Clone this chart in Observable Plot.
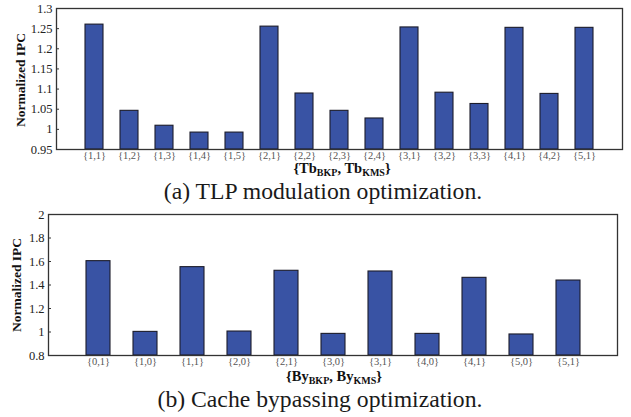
<!DOCTYPE html>
<html>
<head>
<meta charset="utf-8">
<script src="https://cdn.jsdelivr.net/npm/d3@7"></script>
<script src="https://cdn.jsdelivr.net/npm/@observablehq/plot@0.6"></script>
<style>
  html, body { margin: 0; padding: 0; background: #fff; }
  #page { position: relative; width: 631px; height: 417px; overflow: hidden; font-family: "Liberation Serif", "Times New Roman", serif; color: #111; }
  .chart { position: absolute; left: 0; }
  .ylab { position: absolute; font-weight: bold; font-size: 13.5px; white-space: nowrap; line-height: 1; transform: translate(-50%, -50%) rotate(-90deg); }
  .xtitle { position: absolute; font-weight: bold; font-size: 14.5px; white-space: nowrap; transform: translateX(-50%); line-height: 1; }
  .xtitle sub { font-size: 10px; vertical-align: baseline; position: relative; top: 2.5px; line-height: 0; }
  .caption { position: absolute; font-size: 23.7px; white-space: nowrap; transform: translateX(-50%); line-height: 1; color: #1a1a1a; }
</style>
</head>
<body>
<div id="page">
  <div id="chartA" class="chart" style="top:0px"></div>
  <div id="chartB" class="chart" style="top:200px"></div>
  <div class="ylab" style="left:21px; top:80px">Normalized IPC</div>
  <div class="ylab" style="left:17px; top:285px">Normalized IPC</div>
  <div class="xtitle" style="left:342px; top:161px">{Tb<sub>BKP</sub>, Tb<sub>KMS</sub>}</div>
  <div class="xtitle" style="left:334px; top:369px">{By<sub>BKP</sub>, By<sub>KMS</sub>}</div>
  <div class="caption" style="left:323px; top:180px">(a) TLP modulation optimization.</div>
  <div class="caption" style="left:320px; top:388px">(b) Cache bypassing optimization.</div>
</div>
<script>
// (a) TLP modulation
const tlpCategories = ["{1,1}","{1,2}","{1,3}","{1,4}","{1,5}","{2,1}","{2,2}","{2,3}","{2,4}","{3,1}","{3,2}","{3,3}","{4,1}","{4,2}","{5,1}"];
const tlpValues = [1.260, 1.046, 1.009, 0.992, 0.992, 1.255, 1.089, 1.046, 1.027, 1.253, 1.091, 1.063, 1.252, 1.088, 1.252];
const tlpTicks = [0.95, 1, 1.05, 1.1, 1.15, 1.2, 1.25, 1.3];

// (b) Cache bypassing
const byCategories = ["{0,1}","{1,0}","{1,1}","{2,0}","{2,1}","{3,0}","{3,1}","{4,0}","{4,1}","{5,0}","{5,1}"];
const byValues = [1.603, 1.001, 1.552, 1.004, 1.521, 0.984, 1.515, 0.984, 1.461, 0.979, 1.438];
const byTicks = [0.8, 1, 1.2, 1.4, 1.6, 1.8, 2];

const barFill = "#3953a4";
const fmt = d => String(+d.toFixed(2));

function makeChart(cats, vals, ticks, opts) {
  const data = cats.map((c, i) => ({cat: c, v: vals[i]}));
  const base = ticks[0];
  return Plot.plot({
    width: 631,
    height: opts.height,
    marginTop: opts.mt,
    marginBottom: opts.mb,
    marginLeft: opts.ml,
    marginRight: opts.mr,
    style: {fontFamily: "'Liberation Serif', 'Times New Roman', serif", background: "#fff"},
    x: {domain: cats, paddingInner: 0.49, paddingOuter: 0.745, axis: null},
    y: {domain: [ticks[0], ticks[ticks.length - 1]], axis: null},
    marks: [
      Plot.barY(data, {x: "cat", y1: base, y2: "v", fill: barFill, stroke: "#1c1c2a", strokeWidth: 1.1}),
      Plot.axisX({tickSize: 0, tickPadding: 2, fontSize: 10.5, fill: "#555", label: null}),
      Plot.axisY({ticks: ticks, tickFormat: fmt, tickSize: -3, tickPadding: 7, fontSize: 12.5, fill: "#222", stroke: "#333", label: null}),
      Plot.frame({stroke: "#333", strokeWidth: 1.3})
    ]
  });
}

document.getElementById("chartA").appendChild(
  makeChart(tlpCategories, tlpValues, tlpTicks, {height: 170, mt: 8, mb: 21, ml: 56, mr: 9})
);
document.getElementById("chartB").appendChild(
  makeChart(byCategories, byValues, byTicks, {height: 170, mt: 14, mb: 15, ml: 48, mr: 14})
);
</script>
</body>
</html>
